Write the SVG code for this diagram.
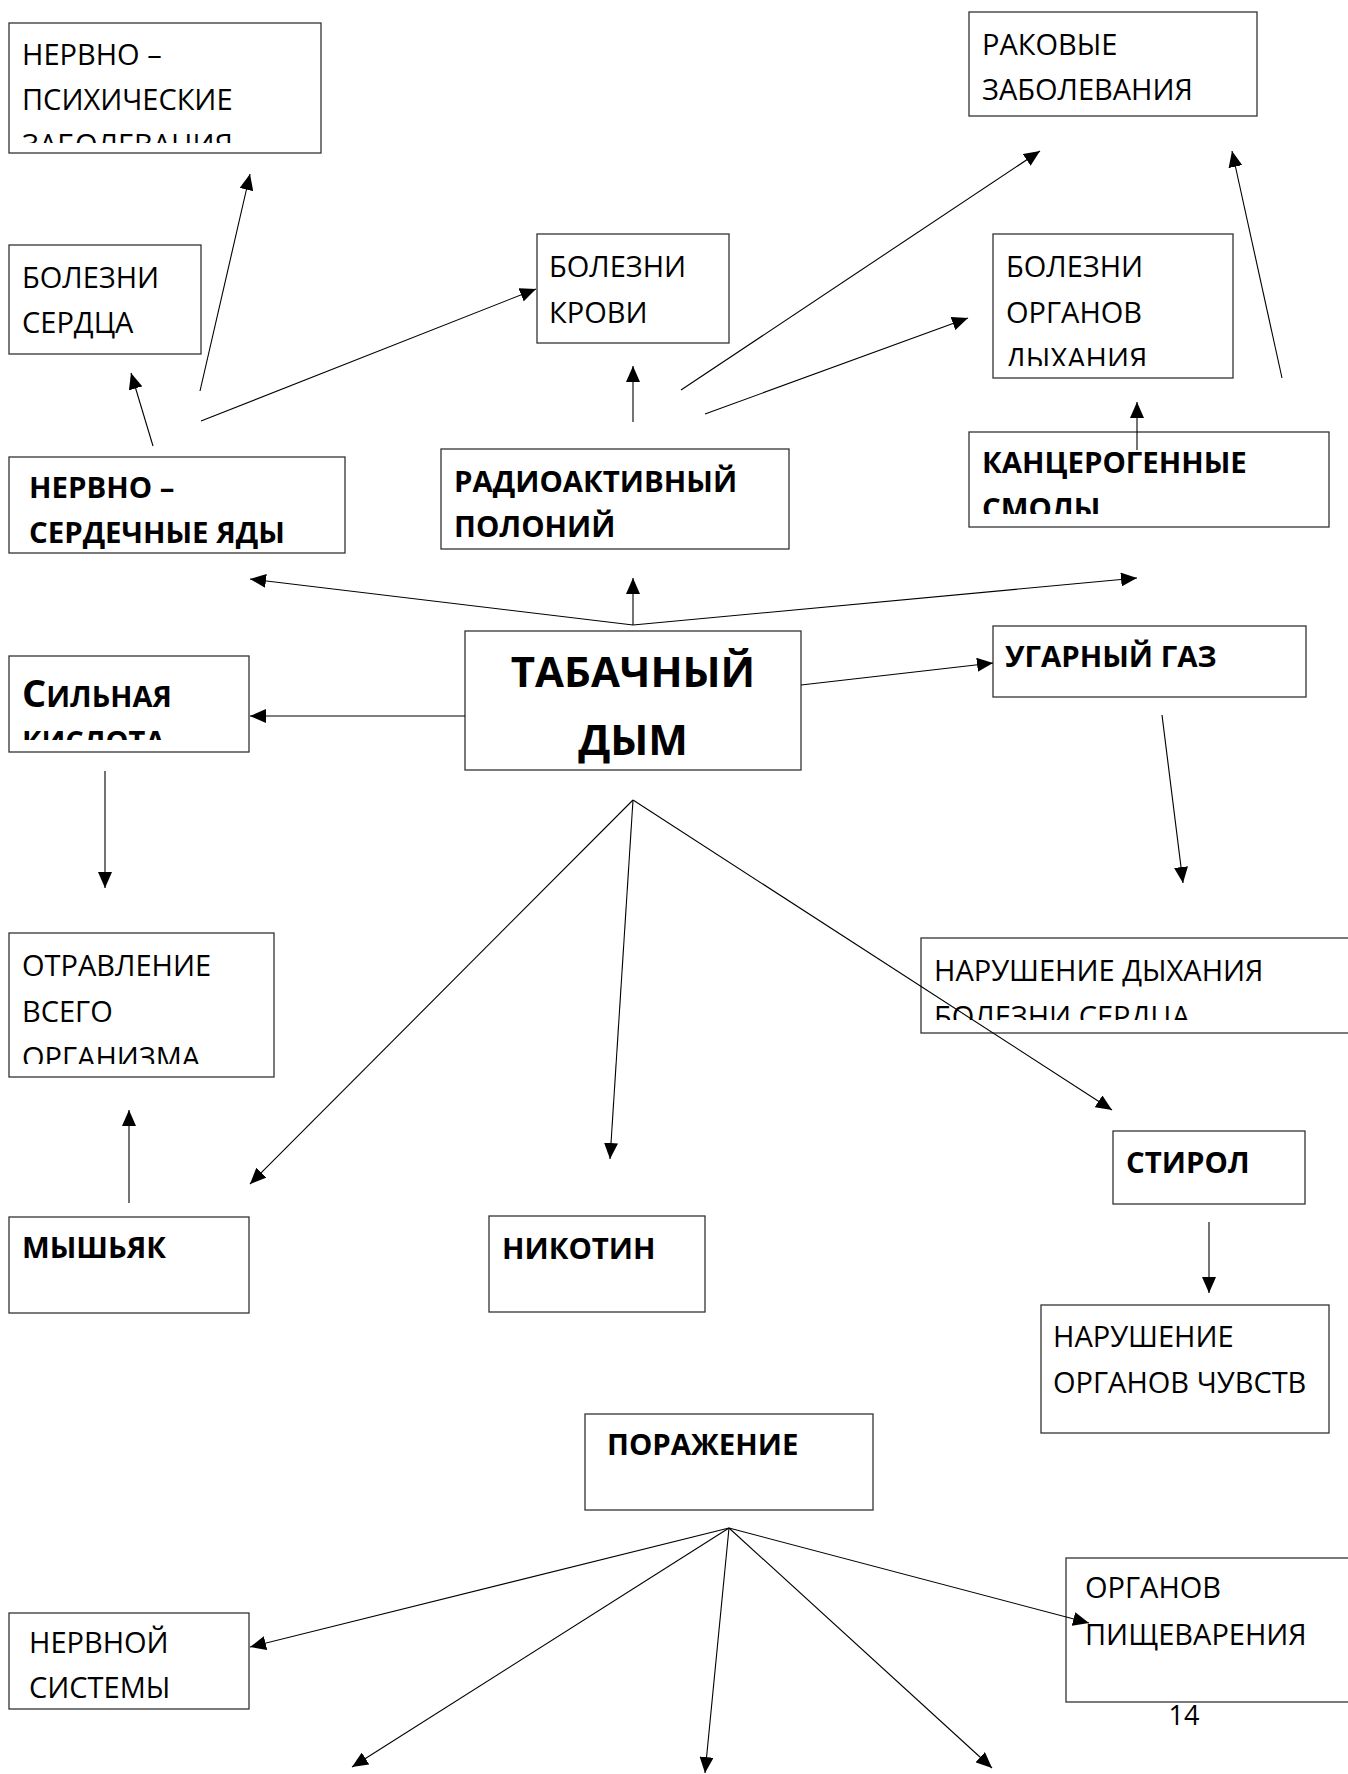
<svg xmlns="http://www.w3.org/2000/svg" width="1348" height="1774" viewBox="0 0 1348 1774">
<style>
.box{fill:#fff;stroke:#333;stroke-width:1.3}
.t{font-family:"Open Sans","Noto Sans","DejaVu Sans",sans-serif;font-size:29px;fill:#000}
.b{font-family:"Open Sans","Noto Sans","DejaVu Sans",sans-serif;font-size:29.4px;font-weight:bold;fill:#000}
.c{stroke:#000;stroke-width:1.1;fill:none;marker-end:url(#ah)}
</style>
<defs>
<marker id="ah" viewBox="0 0 16 14" refX="16" refY="7" markerWidth="16" markerHeight="14" orient="auto" markerUnits="userSpaceOnUse">
<path d="M0,0 L16,7 L0,14 z" fill="#000"/>
</marker>
<clipPath id="cp1"><rect x="9" y="23" width="312" height="120"/></clipPath>
<clipPath id="cp2"><rect x="993" y="234" width="240" height="132"/></clipPath>
<clipPath id="cp3"><rect x="969" y="432" width="360" height="82"/></clipPath>
<clipPath id="cp4"><rect x="9" y="656" width="240" height="84"/></clipPath>
<clipPath id="cp5"><rect x="921" y="938" width="427" height="82"/></clipPath>
<clipPath id="cp6"><rect x="9" y="933" width="265" height="131"/></clipPath>
</defs>
<rect width="1348" height="1774" fill="#fff"/>

<g id="n-psych">
<rect class="box" x="9" y="23" width="312" height="130"/>
<g clip-path="url(#cp1)">
<text class="t" x="22" y="65">НЕРВНО –</text>
<text class="t" x="22" y="110">ПСИХИЧЕСКИЕ</text>
<text class="t" x="22" y="155">ЗАБОЛЕВАНИЯ</text>
</g>
</g>

<g id="n-cancer">
<rect class="box" x="969" y="12" width="288" height="104"/>
<text class="t" x="982" y="55">РАКОВЫЕ</text>
<text class="t" x="982" y="100">ЗАБОЛЕВАНИЯ</text>
</g>

<g id="n-heart">
<rect class="box" x="9" y="245" width="192" height="109"/>
<text class="t" x="22" y="288">БОЛЕЗНИ</text>
<text class="t" x="22" y="333">СЕРДЦА</text>
</g>

<g id="n-blood">
<rect class="box" x="537" y="234" width="192" height="109"/>
<text class="t" x="549" y="277">БОЛЕЗНИ</text>
<text class="t" x="549" y="323">КРОВИ</text>
</g>

<g id="n-resp">
<rect class="box" x="993" y="234" width="240" height="144"/>
<g clip-path="url(#cp2)">
<text class="t" x="1006" y="277">БОЛЕЗНИ</text>
<text class="t" x="1006" y="323">ОРГАНОВ</text>
<text class="t" x="1006" y="369">ДЫХАНИЯ</text>
</g>
</g>

<g id="n-poisons">
<rect class="box" x="9" y="457" width="336" height="96"/>
<text class="b" x="29" y="498">НЕРВНО –</text>
<text class="b" x="29" y="543">СЕРДЕЧНЫЕ ЯДЫ</text>
</g>

<g id="n-polonium">
<rect class="box" x="441" y="449" width="348" height="100"/>
<text class="b" x="454" y="492">РАДИОАКТИВНЫЙ</text>
<text class="b" x="454" y="537">ПОЛОНИЙ</text>
</g>

<g id="n-tar">
<rect class="box" x="969" y="432" width="360" height="95"/>
<g clip-path="url(#cp3)">
<text class="b" x="982" y="473">КАНЦЕРОГЕННЫЕ</text>
<text class="b" x="982" y="519">СМОЛЫ</text>
</g>
</g>

<g id="n-acid">
<rect class="box" x="9" y="656" width="240" height="96"/>
<g clip-path="url(#cp4)">
<text class="b" x="22" y="707" style="font-size:38px;font-variant:small-caps">С<tspan style="font-size:41px">ильная</tspan></text>
<text class="b" x="22" y="752" style="font-size:41px;font-variant:small-caps">кислота</text>
</g>
</g>

<g id="n-smoke">
<rect class="box" x="465" y="631" width="336" height="139"/>
<text class="b" x="633" y="687" text-anchor="middle" style="font-size:42px">ТАБАЧНЫЙ</text>
<text class="b" x="633" y="755" text-anchor="middle" style="font-size:42px">ДЫМ</text>
</g>

<g id="n-co">
<rect class="box" x="993" y="626" width="313" height="71"/>
<text class="b" x="1005" y="667">УГАРНЫЙ ГАЗ</text>
</g>

<g id="n-breath">
<rect class="box" x="921" y="938" width="440" height="95"/>
<g clip-path="url(#cp5)">
<text class="t" x="934" y="981">НАРУШЕНИЕ ДЫХАНИЯ</text>
<text class="t" x="934" y="1027">БОЛЕЗНИ СЕРДЦА</text>
</g>
</g>

<g id="n-poisoning">
<rect class="box" x="9" y="933" width="265" height="144"/>
<g clip-path="url(#cp6)">
<text class="t" x="22" y="976">ОТРАВЛЕНИЕ</text>
<text class="t" x="22" y="1022">ВСЕГО</text>
<text class="t" x="22" y="1068">ОРГАНИЗМА</text>
</g>
</g>

<g id="n-styrene">
<rect class="box" x="1113" y="1131" width="192" height="73"/>
<text class="b" x="1126" y="1173">СТИРОЛ</text>
</g>

<g id="n-arsenic">
<rect class="box" x="9" y="1217" width="240" height="96"/>
<text class="b" x="22" y="1258">МЫШЬЯК</text>
</g>

<g id="n-nicotine">
<rect class="box" x="489" y="1216" width="216" height="96"/>
<text class="b" x="502" y="1259">НИКОТИН</text>
</g>

<g id="n-senses">
<rect class="box" x="1041" y="1305" width="288" height="128"/>
<text class="t" x="1053" y="1347">НАРУШЕНИЕ</text>
<text class="t" x="1053" y="1393">ОРГАНОВ ЧУВСТВ</text>
</g>

<g id="n-lesion">
<rect class="box" x="585" y="1414" width="288" height="96"/>
<text class="b" x="607" y="1455">ПОРАЖЕНИЕ</text>
</g>

<g id="n-nervous">
<rect class="box" x="9" y="1613" width="240" height="96"/>
<text class="t" x="29" y="1653">НЕРВНОЙ</text>
<text class="t" x="29" y="1698">СИСТЕМЫ</text>
</g>

<g id="n-digest">
<rect class="box" x="1066" y="1558" width="300" height="144"/>
<text class="t" x="1085" y="1598">ОРГАНОВ</text>
<text class="t" x="1085" y="1645">ПИЩЕВАРЕНИЯ</text>
</g>

<text class="t" x="1184" y="1725" text-anchor="middle" style="font-size:27px">14</text>

<g id="connectors">
<line class="c" x1="200" y1="391" x2="250" y2="174"/>
<line class="c" x1="153" y1="446" x2="131" y2="373"/>
<line class="c" x1="201" y1="421" x2="536" y2="289"/>
<line class="c" x1="633" y1="422" x2="633" y2="366"/>
<line class="c" x1="681" y1="390" x2="1040" y2="151"/>
<line class="c" x1="705" y1="414" x2="968" y2="318"/>
<line class="c" x1="1282" y1="378" x2="1232" y2="151"/>
<line class="c" x1="1137" y1="450" x2="1137" y2="402"/>
<line class="c" x1="633" y1="625" x2="250" y2="579"/>
<line class="c" x1="633" y1="625" x2="633" y2="578"/>
<line class="c" x1="633" y1="625" x2="1137" y2="578"/>
<line class="c" x1="465" y1="716" x2="250" y2="716"/>
<line class="c" x1="801" y1="685" x2="993" y2="663"/>
<line class="c" x1="105" y1="771" x2="105" y2="888"/>
<line class="c" x1="1162" y1="715" x2="1183" y2="883"/>
<line class="c" x1="633" y1="800" x2="250" y2="1184"/>
<line class="c" x1="633" y1="800" x2="610" y2="1159"/>
<line class="c" x1="633" y1="800" x2="1112" y2="1110"/>
<line class="c" x1="129" y1="1203" x2="129" y2="1110"/>
<line class="c" x1="1209" y1="1222" x2="1209" y2="1293"/>
<line class="c" x1="729" y1="1528" x2="250" y2="1647"/>
<line class="c" x1="729" y1="1528" x2="352" y2="1767"/>
<line class="c" x1="729" y1="1528" x2="705" y2="1773"/>
<line class="c" x1="729" y1="1528" x2="992" y2="1768"/>
<line class="c" x1="729" y1="1528" x2="1089" y2="1623"/>
</g>
</svg>
